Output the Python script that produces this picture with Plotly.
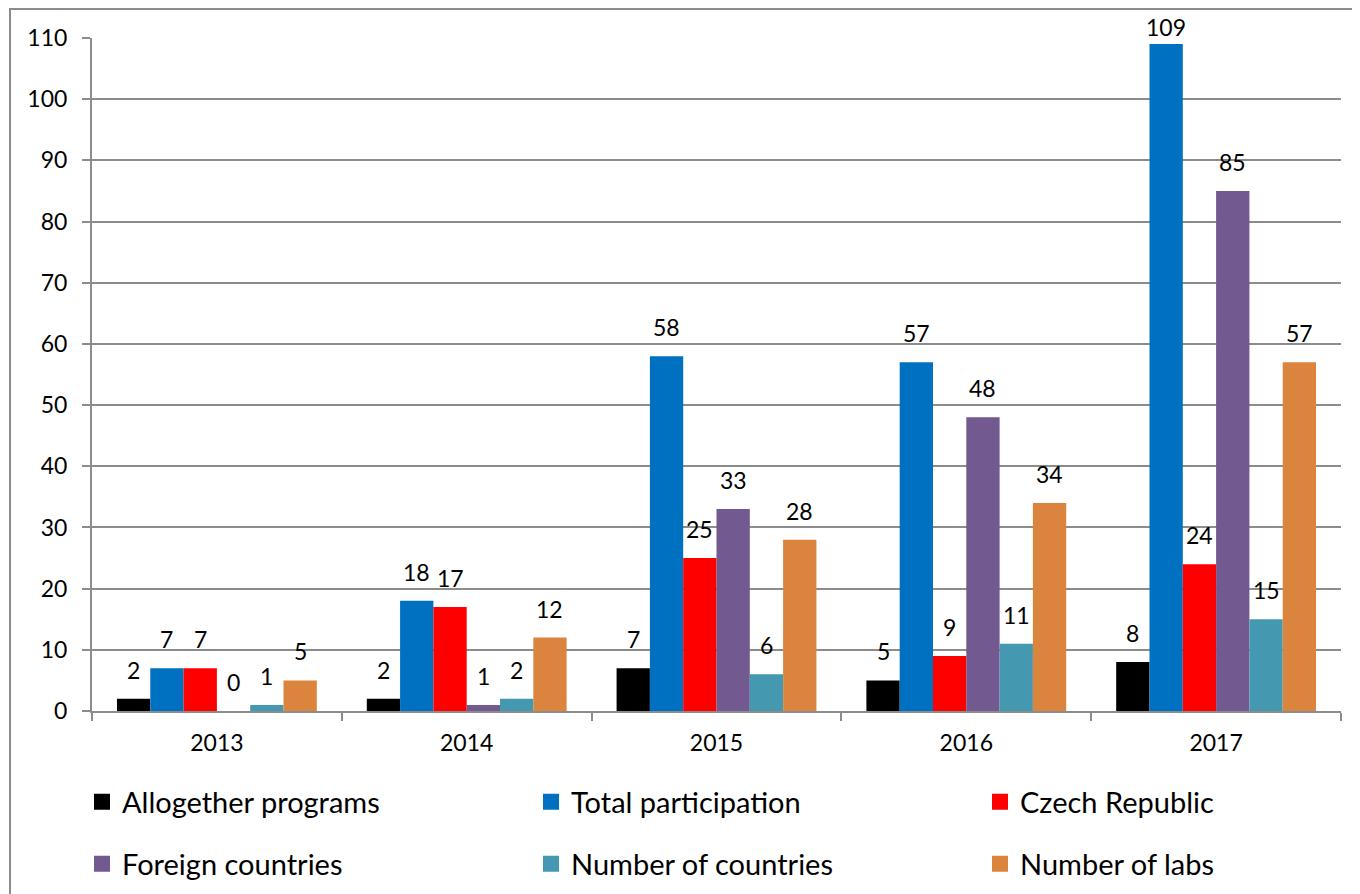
import plotly.graph_objects as go

years = ["2013", "2014", "2015", "2016", "2017"]
series_names = ["Allogether programs", "Total participation", "Czech Republic",
                "Foreign countries", "Number of countries", "Number of labs"]
allogether = [2, 2, 7, 5, 8]
total = [7, 18, 58, 57, 109]
czech = [7, 17, 25, 9, 24]
foreign = [0, 1, 33, 48, 85]
n_countries = [1, 2, 6, 11, 15]
n_labs = [5, 12, 28, 34, 57]

series_values = [allogether, total, czech, foreign, n_countries, n_labs]
colors = ["#000000", "#0070C0", "#FF0000", "#72598F", "#4499B0", "#DB843D"]

FONT = "Lato"
Y_MAX = 110
bar_px = 1249 / 5 * 0.8 / 6  # width of one bar in pixels

# legend placement: 3 columns x 2 rows (figure pixels; page body adds 8px)
leg_cols = [74, 523, 972]
leg_rows = [794, 856]

fig = go.Figure()
legend_layout = {}
for i, (name, vals, col) in enumerate(zip(series_names, series_values, colors)):
    fig.add_trace(go.Bar(x=years, y=vals, name=name, marker_color=col,
                         marker_line_width=0, showlegend=False))
    # legend swatch, each entry in its own legend box
    leg = "legend" if i == 0 else f"legend{i + 1}"
    fig.add_trace(go.Scatter(x=[years[0]], y=[None], mode="markers", name=name,
                             marker=dict(symbol="square", size=18, color=col),
                             legend=leg, hoverinfo="skip"))
    legend_layout[leg] = dict(xref="container", yref="container",
                              x=leg_cols[i % 3] / 1360, y=1 - leg_rows[i // 3] / 894,
                              xanchor="left", yanchor="middle",
                              font=dict(family=FONT, size=29, color="#000000"),
                              bgcolor="rgba(0,0,0,0)")
    # value labels above each bar (pulled down near the top so they stay inside)
    for j, v in enumerate(vals):
        shift = 13 if v < Y_MAX - 4 else 1
        fig.add_annotation(x=j, y=v, text=str(v), showarrow=False,
                           yanchor="bottom", yshift=shift,
                           xshift=(i - 2.5) * bar_px,
                           font=dict(family=FONT, size=23, color="#000000"))

fig.update_layout(
    width=1360, height=894,
    margin=dict(l=84, r=27, t=30, b=191, autoexpand=False),
    paper_bgcolor="white", plot_bgcolor="white",
    barmode="group", bargap=0.2, bargroupgap=0,
    font=dict(family=FONT, size=23, color="#000000"),
    shapes=[dict(type="rect", xref="paper", yref="paper",
                 x0=(10 - 92) / 1249, x1=1.2, y0=-0.5, y1=(711 - 9) / 673,
                 line=dict(color="#8C8C8C", width=2), fillcolor="rgba(0,0,0,0)",
                 layer="below")],
    **legend_layout,
)

fig.update_xaxes(type="category", range=[-0.5, 4.5], showline=True,
                 linecolor="#8C8C8C", linewidth=2,
                 ticks="outside", tickson="boundaries", ticklen=8,
                 tickcolor="#8C8C8C", tickwidth=2, showgrid=False,
                 ticklabelstandoff=10, tickangle=0,
                 tickfont=dict(family=FONT, size=23, color="#000000"))
fig.update_yaxes(range=[0, Y_MAX], dtick=10, showline=True, linecolor="#8C8C8C",
                 linewidth=2, ticks="outside", ticklen=8, tickcolor="#8C8C8C",
                 tickwidth=2, showgrid=True, gridcolor="#8C8C8C", gridwidth=2,
                 zeroline=False, ticklabelstandoff=10,
                 tickfont=dict(family=FONT, size=23, color="#000000"))

fig.write_html("out.html")
